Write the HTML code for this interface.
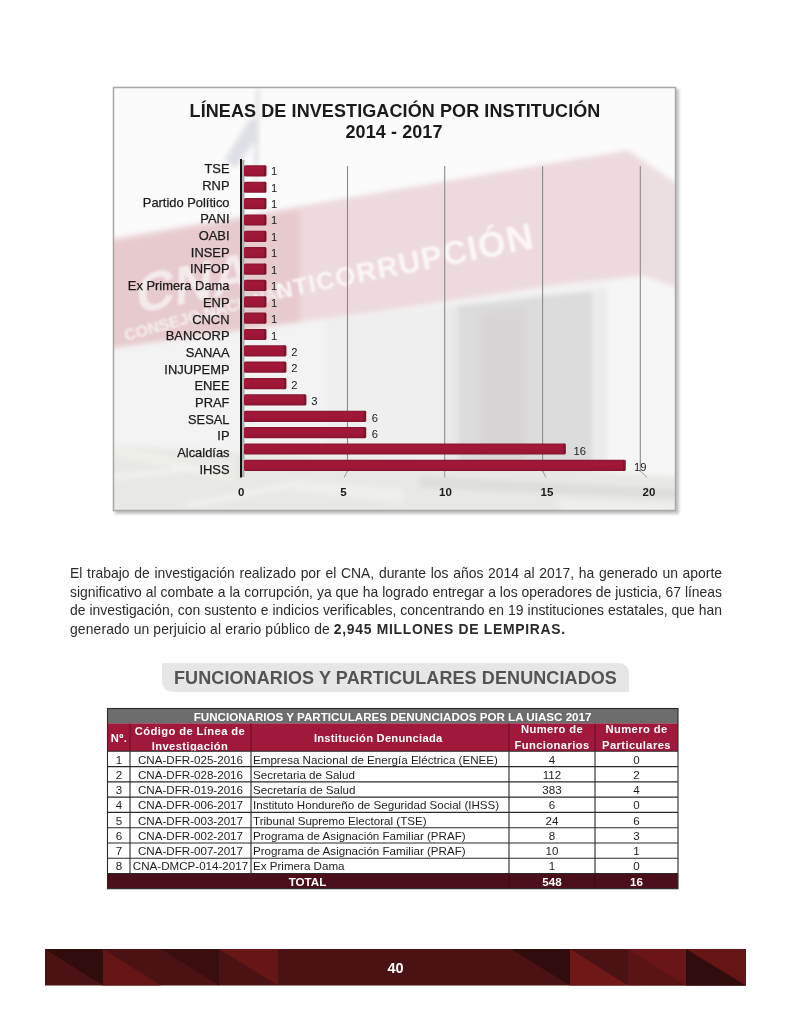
<!DOCTYPE html>
<html><head><meta charset="utf-8">
<style>
html,body{margin:0;padding:0;background:#fff;}
body{width:791px;height:1024px;position:relative;overflow:hidden;font-family:"Liberation Sans",sans-serif;}
.abs{position:absolute;}
svg text{font-family:"Liberation Sans",sans-serif;}
.lb{font-size:12.9px;fill:#1a1a1a;stroke:#1a1a1a;stroke-width:0.25px;}
.vl{font-size:11.2px;fill:#1a1a1a;}
.ax{font-size:11.5px;font-weight:bold;fill:#1a1a1a;}
.ttl{font-size:18px;font-weight:bold;fill:#1a1a1a;letter-spacing:0.1px;}
#para{left:70px;top:564px;width:652px;font-size:13.9px;line-height:18.5px;color:#2b2b2b;}
#para div{white-space:nowrap;text-align:justify;text-align-last:justify;height:18.5px;}
#para div.last{text-align-last:left;}
#tab{left:162px;top:663px;width:467px;height:29px;background:#e6e6e6;border-radius:0 10px 0 10px;}
#tabt{left:174px;top:668px;font-size:18px;font-weight:bold;color:#545454;white-space:nowrap;letter-spacing:0.1px;}
.tt{font-size:11.6px;font-weight:bold;fill:#fff;}
.hd{font-size:11.2px;font-weight:bold;fill:#fff;letter-spacing:0.4px;}
.dt{font-size:11.6px;fill:#1e1e1e;}
</style></head><body>

<svg class="abs" style="left:0;top:0" width="791" height="1024" viewBox="0 0 791 1024">
<defs>
<linearGradient id="bg" x1="0" y1="0" x2="0" y2="1">
<stop offset="0" stop-color="#861530"/>
<stop offset="0.2" stop-color="#a3183a"/>
<stop offset="0.8" stop-color="#9c1636"/>
<stop offset="1" stop-color="#7f1430"/>
</linearGradient>
<filter id="bl" x="0" y="0" width="100%" height="100%" filterUnits="userSpaceOnUse"><feGaussianBlur stdDeviation="2.5"/></filter>
<filter id="bl2" x="0" y="0" width="791" height="1024" filterUnits="userSpaceOnUse"><feGaussianBlur stdDeviation="1"/></filter>
<clipPath id="cb"><rect x="113" y="87" width="563" height="424"/></clipPath>
<filter id="sh" x="-5%" y="-5%" width="110%" height="110%"><feGaussianBlur stdDeviation="1.5"/></filter>
</defs>
<rect x="115" y="89" width="564" height="425" fill="#999" filter="url(#sh)" opacity="0.6"/>
<rect x="113" y="87" width="563" height="424" fill="#fafafa"/>
<g clip-path="url(#cb)"><g filter="url(#bl)">

<rect x="100" y="80" width="600" height="440" fill="#fbfbfb"/>
<!-- flag -->
<line x1="258" y1="88" x2="255.5" y2="182" stroke="#d6d8de" stroke-width="3"/>
<polygon points="258,116 249,120 224,160 236,168 257,138" fill="#dfe0e6"/>
<!-- canopy front -->
<polygon points="100,240 628,150 642,160 642,275.5 560,284.6 390,310 100,350" fill="#eddadd"/>
<polygon points="100,244 300,210 300,322 100,350" fill="#e7cacd"/>
<!-- canopy right face -->
<polygon points="628,150 690,192 690,292 642,275.5 642,160" fill="#ecdfe1"/>
<!-- wall under canopy -->
<polygon points="100,350 390,310 560,284.6 642,275.5 690,292 690,520 100,520" fill="#f3f3f3"/>
<polygon points="445,307 560,294 607,290 607,470 445,470" fill="#dcdcdc"/>
<polygon points="445,307 458,306 458,470 445,470" fill="#e9e9e9"/>
<polygon points="480,312 525,307 525,460 480,460" fill="#d9d5d6"/>
<polygon points="592,291 607,289 607,470 592,470" fill="#ebebeb"/>
<polygon points="326,320 445,307 445,470 326,470" fill="#efefef"/>
<polygon points="607,285 642,277 690,294 690,480 607,470" fill="#f6f6f6"/>
<!-- ground -->
<polygon points="100,445 420,462 700,478 700,520 100,520" fill="#e8e8e5"/>
<polygon points="420,476 700,490 700,500 420,488" fill="#dededc"/>
<polygon points="560,500 700,505 700,520 560,520" fill="#efefed"/>
<polygon points="100,444 160,455 235,476 230,480 100,452" fill="#f0f0ea"/>
<polygon points="100,476 232,462 234,466 100,481" fill="#f2f2f0"/>
<polygon points="185,504 294,482 296,486 187,508" fill="#f2f2f0"/>
<polygon points="294,480 403,490 403,503 294,490" fill="#efefed"/>

</g><g filter="url(#bl2)"><text x="278.0" y="299.0" transform="rotate(-11.2 278.0 299.0)" style="font-size:22.3px;font-weight:bold;fill:#fbf7f8">N</text>
<text x="295.0" y="295.6" transform="rotate(-11.2 295.0 295.6)" style="font-size:23.4px;font-weight:bold;fill:#fbf7f8">T</text>
<text x="310.3" y="292.6" transform="rotate(-11.2 310.3 292.6)" style="font-size:24.4px;font-weight:bold;fill:#fbf7f8">I</text>
<text x="318.1" y="291.1" transform="rotate(-11.2 318.1 291.1)" style="font-size:24.9px;font-weight:bold;fill:#fbf7f8">C</text>
<text x="337.0" y="287.3" transform="rotate(-11.2 337.0 287.3)" style="font-size:26.2px;font-weight:bold;fill:#fbf7f8">O</text>
<text x="358.2" y="283.1" transform="rotate(-11.2 358.2 283.1)" style="font-size:27.5px;font-weight:bold;fill:#fbf7f8">R</text>
<text x="378.9" y="279.0" transform="rotate(-11.2 378.9 279.0)" style="font-size:28.9px;font-weight:bold;fill:#fbf7f8">R</text>
<text x="400.5" y="274.7" transform="rotate(-11.2 400.5 274.7)" style="font-size:30.3px;font-weight:bold;fill:#fbf7f8">U</text>
<text x="423.2" y="270.3" transform="rotate(-11.2 423.2 270.3)" style="font-size:31.7px;font-weight:bold;fill:#fbf7f8">P</text>
<text x="445.2" y="265.9" transform="rotate(-11.2 445.2 265.9)" style="font-size:33.2px;font-weight:bold;fill:#fbf7f8">C</text>
<text x="469.8" y="261.0" transform="rotate(-11.2 469.8 261.0)" style="font-size:34.8px;font-weight:bold;fill:#fbf7f8">I</text>
<text x="480.5" y="258.9" transform="rotate(-11.2 480.5 258.9)" style="font-size:35.5px;font-weight:bold;fill:#fbf7f8">Ó</text>
<text x="508.8" y="253.3" transform="rotate(-11.2 508.8 253.3)" style="font-size:37.3px;font-weight:bold;fill:#fbf7f8">N</text><text x="0" y="0" transform="translate(136 314) rotate(-12) skewX(-14)" style="font-size:54px;font-weight:bold;fill:#f3eaeb">CNA</text><text x="126" y="341" transform="rotate(-15.5 126 341)" style="font-size:16px;font-weight:bold;fill:#f6f0f1">CONSEJO NACIONAL</text></g></g>
<rect x="113.5" y="87.5" width="562" height="423" fill="none" stroke="#a8a8a8" stroke-width="1.5"/>
<text x="395" y="116.7" text-anchor="middle" class="ttl">LÍNEAS DE INVESTIGACIÓN POR INSTITUCIÓN</text>
<text x="394" y="137.5" text-anchor="middle" class="ttl">2014 - 2017</text>
<line x1="347.5" y1="166" x2="347.5" y2="472" stroke="#8a8a8a" stroke-width="1.1"/><line x1="347.5" y1="471" x2="344.1" y2="477.5" stroke="#9a9a9a" stroke-width="1"/><line x1="444.7" y1="166" x2="444.7" y2="472" stroke="#8a8a8a" stroke-width="1.1"/><line x1="444.7" y1="471" x2="444.7" y2="477.5" stroke="#9a9a9a" stroke-width="1"/><line x1="542.6" y1="166" x2="542.6" y2="472" stroke="#8a8a8a" stroke-width="1.1"/><line x1="542.6" y1="471" x2="546.0" y2="477.5" stroke="#9a9a9a" stroke-width="1"/><line x1="640.3" y1="166" x2="640.3" y2="472" stroke="#8a8a8a" stroke-width="1.1"/><line x1="640.3" y1="471" x2="647.1" y2="477.5" stroke="#9a9a9a" stroke-width="1"/>
<rect x="241.5" y="160" width="3" height="317" fill="#aab2b2"/>
<rect x="240" y="159" width="2" height="318.5" fill="#111"/>
<rect x="244" y="165.30" width="22.36" height="11.2" rx="1.5" fill="url(#bg)"/>
<rect x="263.86" y="165.40" width="2.5" height="10.5" rx="1" fill="#6e0e24" opacity="0.55"/>
<text x="229.5" y="173.30" text-anchor="end" class="lb">TSE</text>
<text x="270.97" y="175.10" class="vl">1</text>
<rect x="244" y="181.66" width="22.36" height="11.2" rx="1.5" fill="url(#bg)"/>
<rect x="263.86" y="181.76" width="2.5" height="10.5" rx="1" fill="#6e0e24" opacity="0.55"/>
<text x="229.5" y="189.99" text-anchor="end" class="lb">RNP</text>
<text x="270.97" y="191.54" class="vl">1</text>
<rect x="244" y="198.02" width="22.36" height="11.2" rx="1.5" fill="url(#bg)"/>
<rect x="263.86" y="198.12" width="2.5" height="10.5" rx="1" fill="#6e0e24" opacity="0.55"/>
<text x="229.5" y="206.68" text-anchor="end" class="lb">Partido Político</text>
<text x="270.97" y="207.98" class="vl">1</text>
<rect x="244" y="214.38" width="22.36" height="11.2" rx="1.5" fill="url(#bg)"/>
<rect x="263.86" y="214.48" width="2.5" height="10.5" rx="1" fill="#6e0e24" opacity="0.55"/>
<text x="229.5" y="223.37" text-anchor="end" class="lb">PANI</text>
<text x="270.97" y="224.42" class="vl">1</text>
<rect x="244" y="230.74" width="22.36" height="11.2" rx="1.5" fill="url(#bg)"/>
<rect x="263.86" y="230.84" width="2.5" height="10.5" rx="1" fill="#6e0e24" opacity="0.55"/>
<text x="229.5" y="240.06" text-anchor="end" class="lb">OABI</text>
<text x="270.97" y="240.86" class="vl">1</text>
<rect x="244" y="247.10" width="22.36" height="11.2" rx="1.5" fill="url(#bg)"/>
<rect x="263.86" y="247.20" width="2.5" height="10.5" rx="1" fill="#6e0e24" opacity="0.55"/>
<text x="229.5" y="256.75" text-anchor="end" class="lb">INSEP</text>
<text x="270.97" y="257.30" class="vl">1</text>
<rect x="244" y="263.46" width="22.36" height="11.2" rx="1.5" fill="url(#bg)"/>
<rect x="263.86" y="263.56" width="2.5" height="10.5" rx="1" fill="#6e0e24" opacity="0.55"/>
<text x="229.5" y="273.44" text-anchor="end" class="lb">INFOP</text>
<text x="270.97" y="273.74" class="vl">1</text>
<rect x="244" y="279.82" width="22.36" height="11.2" rx="1.5" fill="url(#bg)"/>
<rect x="263.86" y="279.92" width="2.5" height="10.5" rx="1" fill="#6e0e24" opacity="0.55"/>
<text x="229.5" y="290.13" text-anchor="end" class="lb">Ex Primera Dama</text>
<text x="270.97" y="290.18" class="vl">1</text>
<rect x="244" y="296.18" width="22.36" height="11.2" rx="1.5" fill="url(#bg)"/>
<rect x="263.86" y="296.28" width="2.5" height="10.5" rx="1" fill="#6e0e24" opacity="0.55"/>
<text x="229.5" y="306.82" text-anchor="end" class="lb">ENP</text>
<text x="270.97" y="306.62" class="vl">1</text>
<rect x="244" y="312.54" width="22.36" height="11.2" rx="1.5" fill="url(#bg)"/>
<rect x="263.86" y="312.64" width="2.5" height="10.5" rx="1" fill="#6e0e24" opacity="0.55"/>
<text x="229.5" y="323.51" text-anchor="end" class="lb">CNCN</text>
<text x="270.97" y="323.06" class="vl">1</text>
<rect x="244" y="328.90" width="22.36" height="11.2" rx="1.5" fill="url(#bg)"/>
<rect x="263.86" y="329.00" width="2.5" height="10.5" rx="1" fill="#6e0e24" opacity="0.55"/>
<text x="229.5" y="340.20" text-anchor="end" class="lb">BANCORP</text>
<text x="270.97" y="339.50" class="vl">1</text>
<rect x="244" y="345.26" width="42.32" height="11.2" rx="1.5" fill="url(#bg)"/>
<rect x="283.82" y="345.36" width="2.5" height="10.5" rx="1" fill="#6e0e24" opacity="0.55"/>
<text x="229.5" y="356.89" text-anchor="end" class="lb">SANAA</text>
<text x="291.14" y="355.94" class="vl">2</text>
<rect x="244" y="361.62" width="42.32" height="11.2" rx="1.5" fill="url(#bg)"/>
<rect x="283.82" y="361.72" width="2.5" height="10.5" rx="1" fill="#6e0e24" opacity="0.55"/>
<text x="229.5" y="373.58" text-anchor="end" class="lb">INJUPEMP</text>
<text x="291.14" y="372.38" class="vl">2</text>
<rect x="244" y="377.98" width="42.32" height="11.2" rx="1.5" fill="url(#bg)"/>
<rect x="283.82" y="378.08" width="2.5" height="10.5" rx="1" fill="#6e0e24" opacity="0.55"/>
<text x="229.5" y="390.27" text-anchor="end" class="lb">ENEE</text>
<text x="291.14" y="388.82" class="vl">2</text>
<rect x="244" y="394.34" width="62.28" height="11.2" rx="1.5" fill="url(#bg)"/>
<rect x="303.78" y="394.44" width="2.5" height="10.5" rx="1" fill="#6e0e24" opacity="0.55"/>
<text x="229.5" y="406.96" text-anchor="end" class="lb">PRAF</text>
<text x="311.31" y="405.26" class="vl">3</text>
<rect x="244" y="410.70" width="122.16" height="11.2" rx="1.5" fill="url(#bg)"/>
<rect x="363.66" y="410.80" width="2.5" height="10.5" rx="1" fill="#6e0e24" opacity="0.55"/>
<text x="229.5" y="423.65" text-anchor="end" class="lb">SESAL</text>
<text x="371.82" y="421.70" class="vl">6</text>
<rect x="244" y="427.06" width="122.16" height="11.2" rx="1.5" fill="url(#bg)"/>
<rect x="363.66" y="427.16" width="2.5" height="10.5" rx="1" fill="#6e0e24" opacity="0.55"/>
<text x="229.5" y="440.34" text-anchor="end" class="lb">IP</text>
<text x="371.82" y="438.14" class="vl">6</text>
<rect x="244" y="443.42" width="321.76" height="11.2" rx="1.5" fill="url(#bg)"/>
<rect x="563.26" y="443.52" width="2.5" height="10.5" rx="1" fill="#6e0e24" opacity="0.55"/>
<text x="229.5" y="457.03" text-anchor="end" class="lb">Alcaldías</text>
<text x="573.52" y="454.58" class="vl">16</text>
<rect x="244" y="459.78" width="381.64" height="11.2" rx="1.5" fill="url(#bg)"/>
<rect x="623.14" y="459.88" width="2.5" height="10.5" rx="1" fill="#6e0e24" opacity="0.55"/>
<text x="229.5" y="473.72" text-anchor="end" class="lb">IHSS</text>
<text x="634.03" y="471.02" class="vl">19</text>
<text x="241.2" y="495.5" text-anchor="middle" class="ax">0</text><text x="343.4" y="495.5" text-anchor="middle" class="ax">5</text><text x="445.5" y="495.5" text-anchor="middle" class="ax">10</text><text x="547" y="495.5" text-anchor="middle" class="ax">15</text><text x="649" y="495.5" text-anchor="middle" class="ax">20</text>

<g>
<rect x="45" y="949" width="701" height="36.5" fill="#4b1213"/>
<polygon points="45,949 103,949 103,985.5" fill="#300c0c"/>
<polygon points="103,949 161,985.5 103,985.5" fill="#661515"/>
<polygon points="161,949 219,949 219,985.5" fill="#3a0e0e"/>
<polygon points="219,949 278,949 278,985.5" fill="#671616"/>
<polygon points="511,949 570,949 570,985.5" fill="#300c0c"/>
<polygon points="570,949 628,985.5 570,985.5" fill="#701818"/>
<rect x="628" y="949" width="58" height="36.5" fill="#5a1414"/>
<polygon points="628,949 686,949 686,985.5" fill="#6a1616"/>
<rect x="686" y="949" width="60" height="36.5" fill="#661515"/>
<polygon points="686,949 746,985.5 686,985.5" fill="#300c0c"/>
<text x="395.5" y="973" text-anchor="middle" style="font-size:14.5px;font-weight:bold;fill:#fff">40</text>
</g>
</svg>

<div id="para" class="abs">
<div>El trabajo de investigación realizado por el CNA, durante los años 2014 al 2017, ha generado un aporte</div>
<div>significativo al combate a la corrupción, ya que ha logrado entregar a los operadores de justicia, 67 líneas</div>
<div>de investigación, con sustento e indicios verificables, concentrando en 19 instituciones estatales, que han</div>
<div class="last" style="letter-spacing:0.12px">generado un perjuicio al erario público de <b style="letter-spacing:0.7px">2,945 MILLONES DE LEMPIRAS.</b></div>
</div>

<div id="tab" class="abs"></div>
<div id="tabt" class="abs">FUNCIONARIOS Y PARTICULARES DENUNCIADOS</div>

<svg class="abs" style="left:0;top:0" width="791" height="1024" viewBox="0 0 791 1024">
<clipPath id="hc"><rect x="107" y="723.4" width="571" height="28"/></clipPath>
<rect x="107.5" y="708.5" width="570.5" height="15" fill="#6d6d6d"/>
<rect x="107.5" y="723.4" width="570.5" height="28" fill="#a0183a"/>
<rect x="107.5" y="751.3" width="570.5" height="122.24" fill="#fff"/>
<rect x="107.5" y="873.5" width="570.5" height="15.2" fill="#4a0f1b"/>
<text x="392.6" y="720.6" text-anchor="middle" class="tt">FUNCIONARIOS Y PARTICULARES DENUNCIADOS POR LA UIASC 2017</text>
<g clip-path="url(#hc)">
<text x="119" y="742" text-anchor="middle" class="hd">Nº.</text>
<text x="190" y="735.3" text-anchor="middle" class="hd">Código de Línea de</text>
<text x="190" y="750" text-anchor="middle" class="hd">Investigación</text>
<text x="378.2" y="742.4" text-anchor="middle" class="hd" style="letter-spacing:0.25px">Institución Denunciada</text>
<text x="552" y="733" text-anchor="middle" class="hd">Numero de</text>
<text x="552" y="748.5" text-anchor="middle" class="hd">Funcionarios</text>
<text x="636.5" y="733" text-anchor="middle" class="hd">Numero de</text>
<text x="636.5" y="748.5" text-anchor="middle" class="hd">Particulares</text>
</g>
<text x="119" y="763.50" text-anchor="middle" class="dt">1</text>
<text x="190.5" y="763.50" text-anchor="middle" class="dt">CNA-DFR-025-2016</text>
<text x="253" y="763.50" class="dt">Empresa Nacional de Energía Eléctrica (ENEE)</text>
<text x="552" y="763.50" text-anchor="middle" class="dt">4</text>
<text x="636.5" y="763.50" text-anchor="middle" class="dt">0</text>
<text x="119" y="778.78" text-anchor="middle" class="dt">2</text>
<text x="190.5" y="778.78" text-anchor="middle" class="dt">CNA-DFR-028-2016</text>
<text x="253" y="778.78" class="dt">Secretaria de Salud</text>
<text x="552" y="778.78" text-anchor="middle" class="dt">112</text>
<text x="636.5" y="778.78" text-anchor="middle" class="dt">2</text>
<text x="119" y="794.06" text-anchor="middle" class="dt">3</text>
<text x="190.5" y="794.06" text-anchor="middle" class="dt">CNA-DFR-019-2016</text>
<text x="253" y="794.06" class="dt">Secretaría de Salud</text>
<text x="552" y="794.06" text-anchor="middle" class="dt">383</text>
<text x="636.5" y="794.06" text-anchor="middle" class="dt">4</text>
<text x="119" y="809.34" text-anchor="middle" class="dt">4</text>
<text x="190.5" y="809.34" text-anchor="middle" class="dt">CNA-DFR-006-2017</text>
<text x="253" y="809.34" class="dt">Instituto Hondureño de Seguridad Social (IHSS)</text>
<text x="552" y="809.34" text-anchor="middle" class="dt">6</text>
<text x="636.5" y="809.34" text-anchor="middle" class="dt">0</text>
<text x="119" y="824.62" text-anchor="middle" class="dt">5</text>
<text x="190.5" y="824.62" text-anchor="middle" class="dt">CNA-DFR-003-2017</text>
<text x="253" y="824.62" class="dt">Tribunal Supremo Electoral (TSE)</text>
<text x="552" y="824.62" text-anchor="middle" class="dt">24</text>
<text x="636.5" y="824.62" text-anchor="middle" class="dt">6</text>
<text x="119" y="839.90" text-anchor="middle" class="dt">6</text>
<text x="190.5" y="839.90" text-anchor="middle" class="dt">CNA-DFR-002-2017</text>
<text x="253" y="839.90" class="dt">Programa de Asignación Familiar (PRAF)</text>
<text x="552" y="839.90" text-anchor="middle" class="dt">8</text>
<text x="636.5" y="839.90" text-anchor="middle" class="dt">3</text>
<text x="119" y="855.18" text-anchor="middle" class="dt">7</text>
<text x="190.5" y="855.18" text-anchor="middle" class="dt">CNA-DFR-007-2017</text>
<text x="253" y="855.18" class="dt">Programa de Asignación Familiar (PRAF)</text>
<text x="552" y="855.18" text-anchor="middle" class="dt">10</text>
<text x="636.5" y="855.18" text-anchor="middle" class="dt">1</text>
<text x="119" y="870.46" text-anchor="middle" class="dt">8</text>
<text x="190.5" y="870.46" text-anchor="middle" class="dt">CNA-DMCP-014-2017</text>
<text x="253" y="870.46" class="dt">Ex Primera Dama</text>
<text x="552" y="870.46" text-anchor="middle" class="dt">1</text>
<text x="636.5" y="870.46" text-anchor="middle" class="dt">0</text>
<text x="307.5" y="885.5" text-anchor="middle" class="tt">TOTAL</text>
<text x="552" y="885.5" text-anchor="middle" class="tt">548</text>
<text x="636.5" y="885.5" text-anchor="middle" class="tt">16</text>
<line x1="107.5" y1="751.30" x2="678" y2="751.30" stroke="#2a2a2a" stroke-width="1.1"/>
<line x1="107.5" y1="766.58" x2="678" y2="766.58" stroke="#2a2a2a" stroke-width="1.1"/>
<line x1="107.5" y1="781.86" x2="678" y2="781.86" stroke="#2a2a2a" stroke-width="1.1"/>
<line x1="107.5" y1="797.14" x2="678" y2="797.14" stroke="#2a2a2a" stroke-width="1.1"/>
<line x1="107.5" y1="812.42" x2="678" y2="812.42" stroke="#2a2a2a" stroke-width="1.1"/>
<line x1="107.5" y1="827.70" x2="678" y2="827.70" stroke="#2a2a2a" stroke-width="1.1"/>
<line x1="107.5" y1="842.98" x2="678" y2="842.98" stroke="#2a2a2a" stroke-width="1.1"/>
<line x1="107.5" y1="858.26" x2="678" y2="858.26" stroke="#2a2a2a" stroke-width="1.1"/>
<line x1="107.5" y1="873.54" x2="678" y2="873.54" stroke="#2a2a2a" stroke-width="1.1"/>
<line x1="130" y1="723.4" x2="130" y2="751.3" stroke="#6a0f25" stroke-width="1.1"/>
<line x1="130" y1="751.3" x2="130" y2="873.5" stroke="#2a2a2a" stroke-width="1.1"/>
<line x1="251" y1="723.4" x2="251" y2="751.3" stroke="#6a0f25" stroke-width="1.1"/>
<line x1="251" y1="751.3" x2="251" y2="873.5" stroke="#2a2a2a" stroke-width="1.1"/>
<line x1="509" y1="723.4" x2="509" y2="751.3" stroke="#6a0f25" stroke-width="1.1"/>
<line x1="509" y1="751.3" x2="509" y2="873.5" stroke="#2a2a2a" stroke-width="1.1"/>
<line x1="595" y1="723.4" x2="595" y2="751.3" stroke="#6a0f25" stroke-width="1.1"/>
<line x1="595" y1="751.3" x2="595" y2="873.5" stroke="#2a2a2a" stroke-width="1.1"/>
<line x1="509" y1="873.5" x2="509" y2="888.7" stroke="#380a15" stroke-width="1"/>
<line x1="595" y1="873.5" x2="595" y2="888.7" stroke="#380a15" stroke-width="1"/>
<rect x="107.5" y="708.5" width="570.5" height="180.2" fill="none" stroke="#2a2a2a" stroke-width="1.1"/>
</svg>
</body></html>
